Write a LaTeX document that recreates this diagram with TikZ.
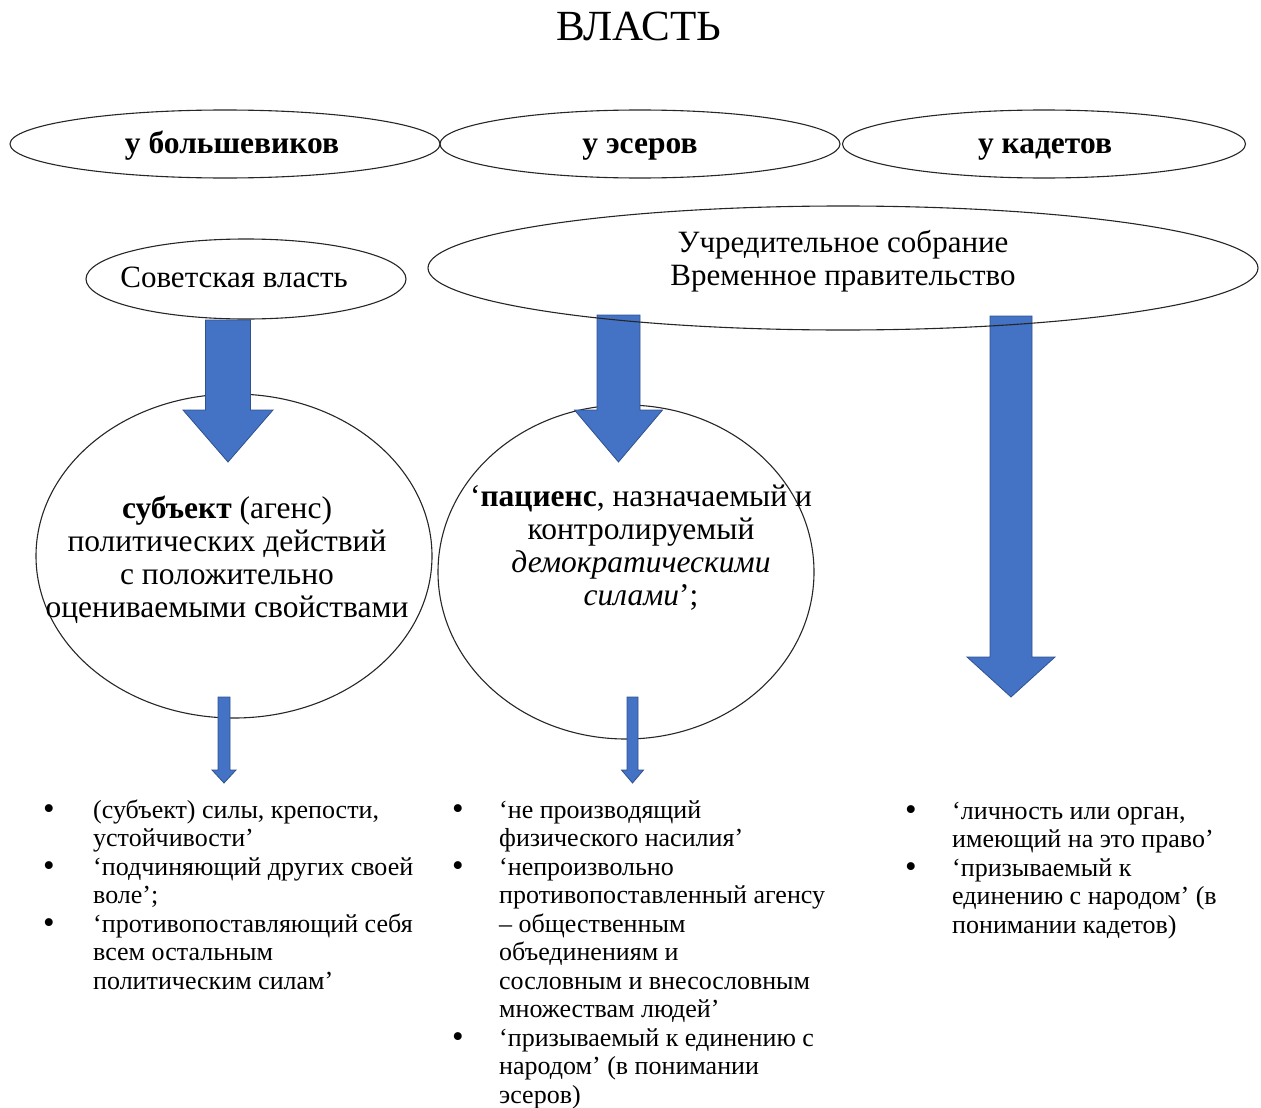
\documentclass[tikz,border=0pt]{standalone}
\usepackage{fontspec}
\setmainfont{Liberation Serif}
\usetikzlibrary{shapes.geometric}
\definecolor{arrowfill}{RGB}{68,114,196}
\definecolor{arrowline}{RGB}{47,82,143}
% cx, shaft half width, head half width, y top, y neck, y tip, name of tip
\newcommand{\fatarr}[7]{%
  \draw[fat] ({#1-#2},#4) -- ({#1+#2},#4) -- ({#1+#2},#5) -- ({#1+#3},#5)
    -- (#1,#6) coordinate (#7) -- ({#1-#3},#5) -- ({#1-#2},#5) -- cycle;}
\newcommand{\bul}{\raisebox{-1.5pt}{\fontsize{33}{28.5}\selectfont\textbullet}}
\begin{document}
\begin{tikzpicture}[x=1pt,y=-1pt,
  oval/.style={draw=black!85, line width=1.1pt, ellipse, inner sep=0pt},
  hdr/.style={font=\fontsize{31.5}{34}\selectfont\bfseries, inner sep=0pt},
  reg/.style={font=\fontsize{31}{33}\selectfont, align=center, inner sep=0pt},
  circ/.style={font=\fontsize{31.5}{33}\selectfont, align=center, inner sep=0pt},
  lst/.style={font=\fontsize{26}{28.5}\selectfont, inner sep=0pt, anchor=base west},
  fat/.style={fill=arrowfill, draw=arrowline, line width=0.8pt}]
\useasboundingbox (0,0) rectangle (1261,1108);

\node[font=\fontsize{43}{46}\selectfont] (title) at (639,26) {ВЛАСТЬ};

% circles
\node[oval, minimum width=396pt, minimum height=324pt] (c1) at (234,556) {};
\node[oval, minimum width=376pt, minimum height=334pt] (c2) at (626,572) {};

% arrows
\fatarr{228}{22.5}{45}{320}{410}{462}{a1}
\fatarr{618.5}{21.5}{44}{315}{410}{462}{a2}
\fatarr{1011}{21}{44}{316}{657}{697}{a3}
\fatarr{224}{6}{12}{697}{770}{783}{a4}
\fatarr{632.5}{5.5}{11}{697}{770}{783}{a5}

% headers
\node[oval, minimum width=430pt, minimum height=68pt] (h1) at (225,144) {};
\node[oval, minimum width=400pt, minimum height=68pt] (h2) at (640,144) {};
\node[oval, minimum width=403pt, minimum height=68pt] (h3) at (1044,144) {};
\node[hdr, anchor=base] (h1T) at (232,153) {у большевиков};
\node[hdr, anchor=base] (h2T) at (640,153) {у эсеров};
\node[hdr, anchor=base] (h3T) at (1045,153) {у кадетов};

\node[oval, minimum width=320pt, minimum height=80pt] (sov) at (246,279) {};
\node[reg] (sovT) at (234,277) {Советская власть};
\node[oval, minimum width=830pt, minimum height=124pt] (uch) at (843,268) {};
\node[reg] (uchT) at (843,261) {Учредительное собрание\\Временное правительство};

% circle texts
\node[circ] (t1) at (227,560) {\textbf{субъект} (агенс)\\политических действий\\с положительно\\оцениваемыми свойствами};
\node[circ] (t2) at (641,548) {‘\textbf{пациенс}, назначаемый и\\контролируемый\\\textit{демократическими}\\\textit{силами}’;};

% lists
\node[lst] (L1) at (43,818) {\begin{tabular}[t]{@{}p{50pt}@{}l@{}}
\bul & (субъект) силы, крепости,\\
 & устойчивости’\\
\bul & ‘подчиняющий других своей\\
 & воле’;\\
\bul & ‘противопоставляющий себя\\
 & всем остальным\\
 & политическим силам’
\end{tabular}};
\node[lst] (L2) at (452,818) {\begin{tabular}[t]{@{}p{47pt}@{}l@{}}
\bul & ‘не производящий\\
 & физического насилия’\\
\bul & ‘непроизвольно\\
 & противопоставленный агенсу\\
 & – общественным\\
 & объединениям и\\
 & сословным и внесословным\\
 & множествам людей’\\
\bul & ‘призываемый к единению с\\
 & народом’ (в понимании\\
 & эсеров)
\end{tabular}};
\node[lst] (L3) at (905,819) {\begin{tabular}[t]{@{}p{47pt}@{}l@{}}
\bul & ‘личность или орган,\\
 & имеющий на это право’\\
\bul & ‘призываемый к\\
 & единению с народом’ (в\\
 & понимании кадетов)
\end{tabular}};
\end{tikzpicture}
\end{document}
